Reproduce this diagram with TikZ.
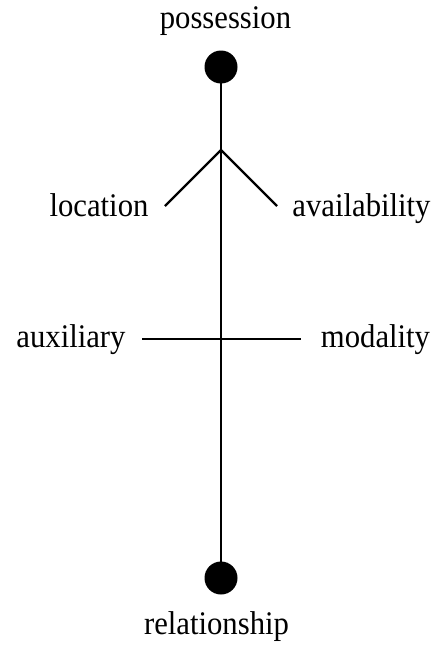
\documentclass[tikz,border=0pt]{standalone}
\usepackage{fontspec}
\setmainfont[FakeStretch=0.93]{Liberation Serif}
\begin{document}
\begin{tikzpicture}[x=1pt,y=-1pt,
  lbl/.style={anchor=base,inner sep=0pt,font=\fontsize{33}{38}\selectfont},
  dot/.style={circle,fill=black,minimum size=33pt,inner sep=0pt},
  ln/.style={line width=2.4pt}]
\useasboundingbox (0,0) rectangle (437,645);
\node[lbl] (possession) at (225.5,28.5) {possession};
\node[lbl] (location) at (99,216) {location};
\node[lbl] (availability) at (361.5,216) {availability};
\node[lbl] (auxiliary) at (71,347) {auxiliary};
\node[lbl] (modality) at (375.5,347) {modality};
\node[lbl] (relationship) at (216.5,634) {relationship};
\node[dot] (top) at (221,67) {};
\node[dot] (bottom) at (221,578) {};
\coordinate (apex) at (221,150);
\coordinate (vl) at (165,206);
\coordinate (vr) at (277,206);
\coordinate (hl) at (142,339);
\coordinate (hr) at (301,339);
\draw[ln] (top.center) -- (bottom.center);
\draw[ln] (vl) -- (apex) -- (vr);
\draw[ln] (hl) -- (hr);
\end{tikzpicture}
\end{document}
